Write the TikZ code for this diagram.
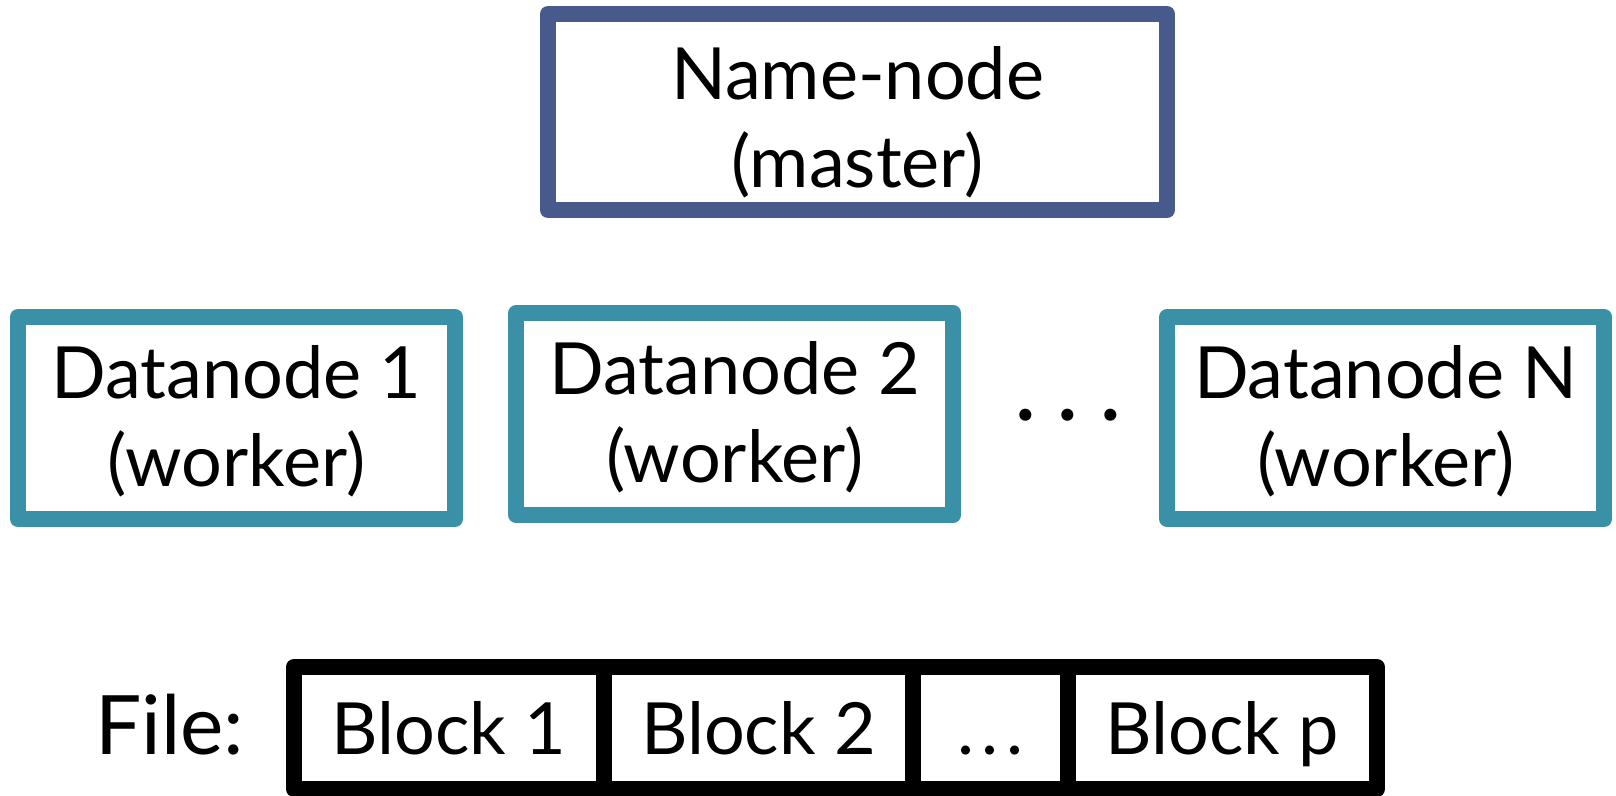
\documentclass[tikz,border=0pt]{standalone}
\usepackage{fontspec}
\setmainfont{Lato}
\definecolor{masterblue}{RGB}{72,90,140}
\definecolor{workerteal}{RGB}{58,145,167}
\newcommand{\spreaddots}[1]{\makebox[#1]{.}\makebox[#1]{.}\makebox[#1]{.}}
\tikzset{
  boxtext/.style={font=\fontsize{72}{88}\selectfont, align=center, inner sep=0pt},
  nodebox/.style={draw, line width=16pt, line join=round, inner sep=0pt},
  masterbox/.style={nodebox, draw=masterblue, minimum width=619pt, minimum height=196pt},
  workerbox/.style={nodebox, draw=workerteal, minimum width=437pt, minimum height=202pt},
  blockcell/.style={nodebox, draw=black, minimum height=122pt},
}
\begin{document}
\begin{tikzpicture}[x=1pt, y=-1pt]
  \useasboundingbox (0,0) rectangle (1616,795);
  % master
  \node[masterbox] (master) at (857.5,112) {};
  \node[boxtext, yshift=-10pt] (mastertext) at (master.center) {Name-node\\(master)};
  % workers
  \node[workerbox] (dn1) at (236.5,418) {};
  \node[workerbox] (dn2) at (734.75,414) {};
  \node[workerbox] (dnN) at (1385.75,418) {};
  \node[boxtext, yshift=-3pt] (dn1text) at (dn1.center) {Datanode 1\\(worker)};
  \node[boxtext, yshift=-3pt] (dn2text) at (dn2.center) {Datanode 2\\(worker)};
  \node[boxtext, yshift=-3pt] (dnNtext) at (dnN.center) {Datanode N\\(worker)};
  \node[font=\fontsize{96}{96}\selectfont, anchor=base, inner sep=0pt] (wdots) at (1068,420) {\spreaddots{42.5pt}};
  % file split into blocks
  \node[blockcell, minimum width=310pt] (b1) at (449,728) {};
  \node[blockcell, minimum width=309pt] (b2) at (758.5,728) {};
  \node[blockcell, minimum width=155pt] (bd) at (990.5,728) {};
  \node[blockcell, minimum width=309pt] (bp) at (1222.5,728) {};
  \node[boxtext, anchor=base] (b1text) at (449,754) {Block 1};
  \node[boxtext, anchor=base] (b2text) at (758.5,754) {Block 2};
  \node[boxtext, anchor=base] (bdtext) at (990.5,754) {\spreaddots{24.5pt}};
  \node[boxtext, anchor=base] (bptext) at (1222.5,754) {Block p};
  \node[font=\fontsize{82}{82}\selectfont, anchor=base west, inner sep=0pt] (file) at (95,754) {File:};
\end{tikzpicture}
\end{document}
